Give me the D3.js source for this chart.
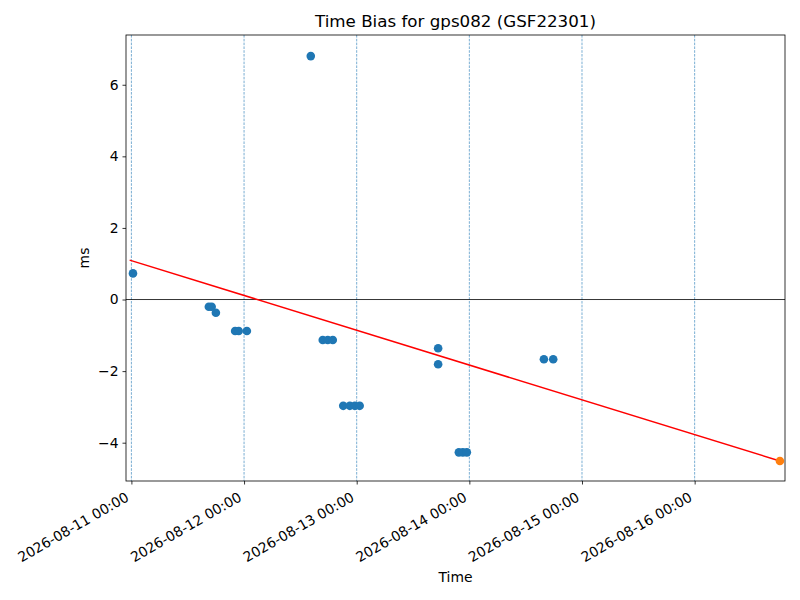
<!DOCTYPE html>
<html lang="en">
<head>
<meta charset="UTF-8">
<title>Time Bias</title>
<style>
    body { margin: 0; background: #fff; }
    svg { font-family: "DejaVu Sans", sans-serif; }
</style>
<script src="https://cdnjs.cloudflare.com/ajax/libs/d3/7.8.5/d3.min.js"></script>
</head>
<body>
<div id="wrapper"></div>
<script>
// measurement times (UTC) and time bias in ms
const times = [
    "2026-08-11 00:20", "2026-08-11 16:30", "2026-08-11 17:06", "2026-08-11 18:00",
    "2026-08-11 22:06", "2026-08-11 22:52", "2026-08-12 00:36", "2026-08-12 14:13",
    "2026-08-12 16:46", "2026-08-12 17:50", "2026-08-12 18:54", "2026-08-12 21:08",
    "2026-08-12 22:32", "2026-08-12 23:36", "2026-08-13 00:38", "2026-08-13 17:21",
    "2026-08-13 17:21", "2026-08-13 21:46", "2026-08-13 22:37", "2026-08-13 23:28",
    "2026-08-14 15:53", "2026-08-14 17:52"
];
const bias = [
    0.73, -0.20, -0.20, -0.37,
    -0.88, -0.88, -0.88, 6.80,
    -1.13, -1.13, -1.13, -2.97,
    -2.97, -2.97, -2.97, -1.36,
    -1.81, -4.27, -4.27, -4.27,
    -1.67, -1.67
];
// fitted trend line end points, last one is the prediction
const fitTimes = ["2026-08-10 23:38", "2026-08-16 18:10"];
const fitValues = [1.10, -4.51];
const predTime = "2026-08-16 18:10";
const predValue = -4.51;
const xTickLabels = ["2026-08-11 00:00", "2026-08-12 00:00", "2026-08-13 00:00",
    "2026-08-14 00:00", "2026-08-15 00:00", "2026-08-16 00:00"];
const yTicks = [-4, -2, 0, 2, 4, 6];

const parse = d3.utcParse("%Y-%m-%d %H:%M");
const fmt = d3.utcFormat("%Y-%m-%d %H:%M");
const FONT = "DejaVu Sans, sans-serif";

const dimensions = {
    width: 800,
    height: 600,
    margin: { top: 35, right: 15, bottom: 119, left: 126 }
};
dimensions.boundedWidth = dimensions.width - dimensions.margin.left - dimensions.margin.right;
dimensions.boundedHeight = dimensions.height - dimensions.margin.top - dimensions.margin.bottom;

const svg = d3.select("#wrapper").append("svg")
    .attr("width", dimensions.width)
    .attr("height", dimensions.height)
    .attr("font-family", FONT);

const bounds = svg.append("g")
    .attr("transform", `translate(${dimensions.margin.left},${dimensions.margin.top})`);

const xScale = d3.scaleUtc()
    .domain([parse("2026-08-10 22:51"), parse("2026-08-16 19:15")])
    .range([0, dimensions.boundedWidth]);

const yScale = d3.scaleLinear()
    .domain([-5.07, 7.39])
    .range([dimensions.boundedHeight, 0]);

// dashed vertical grid lines at the day ticks
bounds.append("g")
    .selectAll("line")
    .data(xTickLabels)
    .join("line")
    .attr("x1", d => xScale(parse(d)))
    .attr("x2", d => xScale(parse(d)))
    .attr("y1", 0)
    .attr("y2", dimensions.boundedHeight)
    .attr("stroke", "#1f77b4")
    .attr("stroke-opacity", 0.85)
    .attr("stroke-width", 0.7)
    .attr("stroke-dasharray", "2.6,1.2");

// zero line
bounds.append("line")
    .attr("x1", 0)
    .attr("x2", dimensions.boundedWidth)
    .attr("y1", yScale(0))
    .attr("y2", yScale(0))
    .attr("stroke", "black")
    .attr("stroke-width", 0.8);

// trend line
const line = d3.line()
    .x((d, i) => xScale(parse(fitTimes[i])))
    .y(d => yScale(d));
bounds.append("path")
    .datum(fitValues)
    .attr("d", line)
    .attr("fill", "none")
    .attr("stroke", "red")
    .attr("stroke-width", 1.5);

// measured points
bounds.append("g")
    .selectAll("circle")
    .data(bias)
    .join("circle")
    .attr("cx", (d, i) => xScale(parse(times[i])))
    .attr("cy", d => yScale(d))
    .attr("r", 4.3)
    .attr("fill", "#1f77b4");

// predicted point
bounds.append("circle")
    .attr("cx", xScale(parse(predTime)))
    .attr("cy", yScale(predValue))
    .attr("r", 4.3)
    .attr("fill", "#ff7f0e");

// x axis
const xAxis = bounds.append("g")
    .attr("transform", `translate(0,${dimensions.boundedHeight})`)
    .call(d3.axisBottom(xScale)
        .tickValues(xTickLabels.map(parse))
        .tickFormat(fmt)
        .tickSizeInner(3.5)
        .tickSizeOuter(0));
xAxis.attr("font-family", FONT);
xAxis.select(".domain").remove();
xAxis.selectAll(".tick line").attr("stroke", "black").attr("stroke-width", 0.8);
xAxis.selectAll(".tick text")
    .attr("y", 0)
    .attr("dy", 0)
    .attr("font-size", "13.9px")
    .attr("fill", "black")
    .attr("text-anchor", "end")
    .attr("transform", "translate(-2,19) rotate(-30)");

// y axis
const yAxis = bounds.append("g")
    .call(d3.axisLeft(yScale)
        .tickValues(yTicks)
        .tickFormat(d => d < 0 ? "\u2212" + Math.abs(d) : d)
        .tickSizeInner(3.5)
        .tickSizeOuter(0)
        .tickPadding(4));
yAxis.attr("font-family", FONT);
yAxis.select(".domain").remove();
yAxis.selectAll(".tick line").attr("stroke", "black").attr("stroke-width", 0.8);
yAxis.selectAll(".tick text").attr("font-size", "13.9px").attr("fill", "black");

// frame
bounds.append("rect")
    .attr("width", dimensions.boundedWidth)
    .attr("height", dimensions.boundedHeight)
    .attr("fill", "none")
    .attr("stroke", "black")
    .attr("stroke-width", 0.8);

// labels
svg.append("text")
    .attr("x", dimensions.margin.left + dimensions.boundedWidth / 2)
    .attr("y", 27)
    .attr("text-anchor", "middle")
    .attr("font-size", "16.7px")
    .text("Time Bias for gps082 (GSF22301)");

svg.append("text")
    .attr("x", dimensions.margin.left + dimensions.boundedWidth / 2)
    .attr("y", 582)
    .attr("text-anchor", "middle")
    .attr("font-size", "13.9px")
    .text("Time");

svg.append("text")
    .attr("transform", `translate(89,${dimensions.margin.top + dimensions.boundedHeight / 2}) rotate(-90)`)
    .attr("text-anchor", "middle")
    .attr("font-size", "13.9px")
    .text("ms");
</script>
</body>
</html>
